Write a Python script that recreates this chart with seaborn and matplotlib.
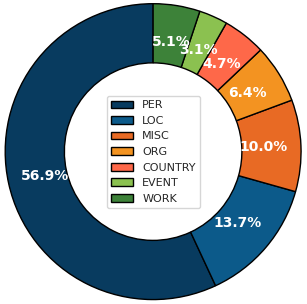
import matplotlib
matplotlib.use('Agg')
import matplotlib.pyplot as plt
import seaborn as sns

sns.set_style('white')
plt.rcParams['font.family'] = ['DejaVu Sans']

# entity types and their share (%)
labels = ['PER', 'LOC', 'MISC', 'ORG', 'COUNTRY', 'EVENT', 'WORK']
shares = [56.94, 13.70, 10.02, 6.40, 4.70, 3.13, 5.11]
colors = ['#083b5f', '#0c5a8a', '#e86a24', '#f39321', '#fe6849', '#8bc150', '#3d8239']

fig = plt.figure(figsize=(3.07, 3.04), dpi=100)
ax = fig.add_axes([0, 0, 1, 1])
wedges, texts, autotexts = ax.pie(shares, colors=colors, startangle=90,
                                  autopct='%1.1f%%', pctdistance=0.75,
                                  wedgeprops=dict(width=0.4, edgecolor='black', linewidth=1),
                                  textprops=dict(color='white', fontsize=10, fontweight='bold'))
ax.set_aspect('equal')
ax.set_xlim(-1.035, 1.04)
ax.set_ylim(-1.03, 1.025)
ax.legend(wedges, labels, loc='center', fontsize=8, frameon=True)
plt.savefig('out.png', dpi=100)
